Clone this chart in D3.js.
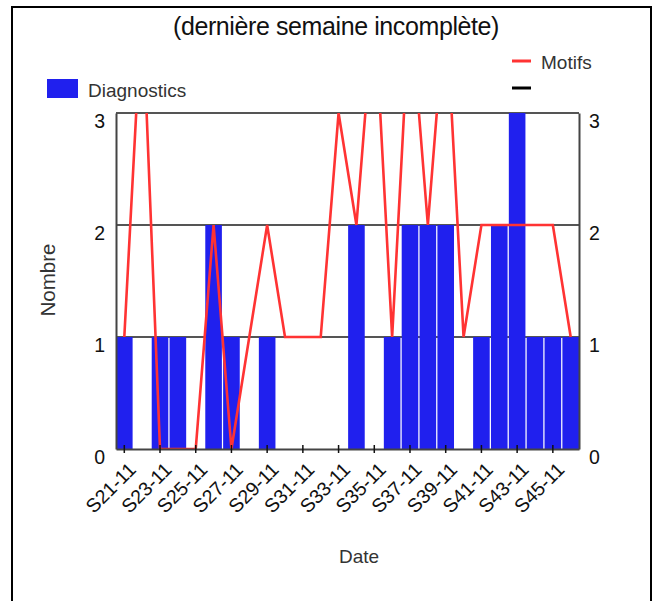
<!DOCTYPE html>
<html>
<head>
<meta charset="utf-8">
<script src="https://cdn.jsdelivr.net/npm/d3@7"></script>
<style>
  body { margin: 0; background: #fff; }
  text { font-family: "Liberation Sans", Arial, sans-serif; }
</style>
</head>
<body>
<script>
const width = 657;
const height = 601;

// weeks S21-11 .. S46-11
const weeks = ["S21-11","S22-11","S23-11","S24-11","S25-11","S26-11","S27-11","S28-11","S29-11","S30-11",
  "S31-11","S32-11","S33-11","S34-11","S35-11","S36-11","S37-11","S38-11","S39-11","S40-11",
  "S41-11","S42-11","S43-11","S44-11","S45-11","S46-11"];
const diagnostics = [1,0,1,1,0,2,1,0,1,0, 0,0,0,2,0,1,2,2,2,0, 1,2,3,1,1,1];
const motifs = [1,4,0,0,0,2,0,1,2,1, 1,1,3,2,4,1,4,2,4,1, 2,2,2,2,2,1];
const yTicks = [0, 1, 2, 3];
const labelWeeks = weeks.filter((d, i) => i % 2 === 0);

const margin = {top: 113, right: 78, bottom: 152, left: 116};
const innerW = width - margin.left - margin.right;
const innerH = height - margin.top - margin.bottom;

const svg = d3.select('body').append('svg')
    .attr('width', width)
    .attr('height', height);

// frame
svg.append('rect')
    .attr('x', 12).attr('y', 7)
    .attr('width', 639).attr('height', 620)
    .attr('fill', 'none')
    .attr('stroke', '#000')
    .attr('stroke-width', 2);

svg.append('text')
    .attr('x', 336).attr('y', 35)
    .attr('text-anchor', 'middle')
    .attr('font-size', 25)
    .attr('letter-spacing', -0.4)
    .attr('fill', '#111')
    .text('(dernière semaine incomplète)');

const g = svg.append('g')
    .attr('transform', `translate(${margin.left},${margin.top})`);

const x = d3.scaleBand()
    .domain(weeks)
    .range([0, innerW])
    .paddingInner(0.07)
    .paddingOuter(0);

const y = d3.scaleLinear()
    .domain([0, 3])
    .range([innerH, 0]);

// gridlines
g.append('g')
    .selectAll('line')
    .data(yTicks.slice(1))
    .enter().append('line')
    .attr('x1', 0).attr('x2', innerW)
    .attr('y1', d => y(d)).attr('y2', d => y(d))
    .attr('stroke', '#555')
    .attr('stroke-width', 1.8);

// bars
g.append('g')
    .selectAll('rect')
    .data(weeks)
    .enter().append('rect')
    .attr('x', d => x(d))
    .attr('width', x.bandwidth())
    .attr('y', (d, i) => y(diagnostics[i]))
    .attr('height', (d, i) => innerH - y(diagnostics[i]))
    .attr('fill', '#2020ee');

// clip for the line (values above 3 are cut)
svg.append('clipPath').attr('id', 'plot-clip')
    .append('rect')
    .attr('x', 0).attr('y', 0)
    .attr('width', innerW).attr('height', innerH);

const line = d3.line()
    .x((d, i) => x(weeks[i]) + x.bandwidth() / 2)
    .y(d => y(d));

g.append('path')
    .datum(motifs)
    .attr('clip-path', 'url(#plot-clip)')
    .attr('fill', 'none')
    .attr('stroke', '#ff3333')
    .attr('stroke-width', 2.6)
    .attr('d', line);

// axes
const xAxis = g.append('g')
    .attr('transform', `translate(0,${innerH})`)
    .call(d3.axisBottom(x).tickValues(labelWeeks).tickSize(4).tickSizeOuter(0));
xAxis.select('.domain').attr('stroke', '#444').attr('stroke-width', 2);
xAxis.selectAll('.tick line').attr('y1', -4).attr('y2', 4).attr('stroke', '#111').attr('stroke-width', 1.5);
xAxis.selectAll('.tick text')
    .attr('x', 0).attr('y', 0).attr('dy', '0.35em')
    .attr('transform', 'translate(8,17) rotate(-45)')
    .attr('text-anchor', 'end')
    .attr('font-size', 19.5)
    .attr('fill', '#111');

const yLeft = g.append('g')
    .call(d3.axisLeft(y).tickValues(yTicks).tickFormat(d3.format('d')).tickSize(0).tickPadding(11));
const yRight = g.append('g')
    .attr('transform', `translate(${innerW},0)`)
    .call(d3.axisRight(y).tickValues(yTicks).tickFormat(d3.format('d')).tickSize(0).tickPadding(10));
[yLeft, yRight].forEach(a => {
    a.select('.domain').attr('stroke', '#444').attr('stroke-width', 2);
    a.selectAll('.tick text')
        .attr('dy', '0.74em')
        .attr('font-size', 19.5)
        .attr('fill', '#111');
});

// axis titles
svg.append('text')
    .attr('transform', 'translate(55,280) rotate(-90)')
    .attr('text-anchor', 'middle')
    .attr('font-size', 20.5)
    .attr('fill', '#333')
    .text('Nombre');

svg.append('text')
    .attr('x', 359).attr('y', 563)
    .attr('text-anchor', 'middle')
    .attr('font-size', 19)
    .attr('fill', '#333')
    .text('Date');

// legend
svg.append('rect')
    .attr('x', 47).attr('y', 79)
    .attr('width', 31).attr('height', 19)
    .attr('fill', '#2020ee');
svg.append('text')
    .attr('x', 88).attr('y', 97)
    .attr('font-size', 19)
    .attr('fill', '#333')
    .text('Diagnostics');

svg.append('line')
    .attr('x1', 512).attr('x2', 531)
    .attr('y1', 61).attr('y2', 61)
    .attr('stroke', '#ff3333').attr('stroke-width', 3);
svg.append('text')
    .attr('x', 541).attr('y', 69)
    .attr('font-size', 19)
    .attr('fill', '#333')
    .text('Motifs');
svg.append('line')
    .attr('x1', 512).attr('x2', 531)
    .attr('y1', 88).attr('y2', 88)
    .attr('stroke', '#000').attr('stroke-width', 3);
</script>
</body>
</html>
